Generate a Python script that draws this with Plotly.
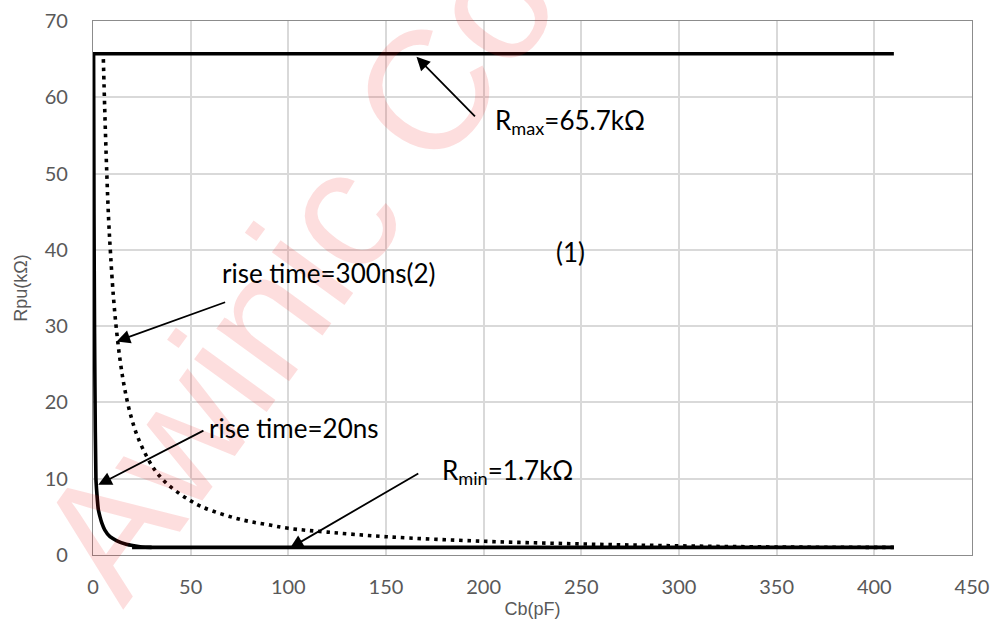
import plotly.graph_objects as go

# ---- data ----
rmax_x = [0, 410]
rmax_y = [65.7, 65.7]

rmin_x = [20, 410]
rmin_y = [1.0, 1.0]

rise20_x = [0.3, 0.5, 0.8, 1.0, 1.5, 2.0, 2.7, 3.6, 4.5, 6.0, 8.7, 12.0, 17.0, 21.0, 25.0, 30.0]
rise20_y = [65.7, 45.0, 29.0, 22.0, 10.0, 8.0, 6.0, 5.0, 4.2, 3.3, 2.4, 1.9, 1.4, 1.2, 1.05, 1.0]

rise300_x = [5.3, 6, 7, 8, 9, 10.5, 12.1, 14, 16, 19, 23, 29, 33, 38, 44.5, 50, 55, 62, 72, 80,
             89, 100, 120, 150, 200, 250, 300, 350, 410]
rise300_y = [65.0, 58.5, 50.5, 44.0, 39.4, 33.7, 29.3, 25.3, 22.1, 18.6, 15.4, 12.2, 10.7, 9.3,
             8.0, 7.1, 6.4, 5.7, 4.9, 4.4, 4.0, 3.5, 3.0, 2.4, 1.8, 1.45, 1.2, 1.05, 1.0]

x_ticks = [0, 50, 100, 150, 200, 250, 300, 350, 400, 450]
y_ticks = [0, 10, 20, 30, 40, 50, 60, 70]

fig = go.Figure()

fig.add_trace(go.Scatter(x=rise300_x, y=rise300_y, mode="lines",
                         line=dict(color="black", width=3.6, dash="3.5px,4.8px", shape="spline"),
                         name="rise time=300ns", showlegend=False))
fig.add_trace(go.Scatter(x=rmax_x, y=rmax_y, mode="lines",
                         line=dict(color="black", width=3.6), name="Rmax", showlegend=False))
fig.add_trace(go.Scatter(x=rmin_x, y=rmin_y, mode="lines",
                         line=dict(color="black", width=3.6), name="Rmin", showlegend=False))
fig.add_trace(go.Scatter(x=rise20_x, y=rise20_y, mode="lines",
                         line=dict(color="black", width=3.6, shape="spline", smoothing=0.6),
                         name="rise time=20ns", showlegend=False))

txt_font = dict(family="Lato, Carlito, sans-serif", size=26, color="black")

annotations = []
# watermark
annotations.append(dict(text="Awinic Confidential", xref="paper", yref="paper",
                        x=0.4585, y=1.047, xanchor="center", yanchor="middle",
                        showarrow=False, textangle=-54,
                        font=dict(family="Liberation Sans, Arial, sans-serif", size=170,
                                  color="rgba(240,20,20,0.14)")))
# text labels
annotations += [
    dict(text="R<sub>max</sub>=65.7kΩ", x=204.6, y=56.8, xref="x", yref="y",
         xanchor="left", yanchor="middle", showarrow=False, font=txt_font),
    dict(text="(1)", x=244.2, y=39.7, xref="x", yref="y",
         xanchor="center", yanchor="middle", showarrow=False, font=txt_font),
    dict(text="rise time=300ns(2)", x=65.0, y=37.0, xref="x", yref="y",
         xanchor="left", yanchor="middle", showarrow=False, font=txt_font),
    dict(text="rise time=20ns", x=58.3, y=16.6, xref="x", yref="y",
         xanchor="left", yanchor="middle", showarrow=False, font=txt_font),
    dict(text="R<sub>min</sub>=1.7kΩ", x=177.5, y=11.0, xref="x", yref="y",
         xanchor="left", yanchor="middle", showarrow=False, font=txt_font),
]
# arrows (head, tail)
arrows = [
    ((165.6, 65.3), (196.3, 57.3)),
    ((12.1, 28.0), (68.4, 33.2)),
    ((2.7, 9.2), (57.3, 16.4)),
    ((100.8, 0.9), (167.3, 10.8)),
]
for (hx, hy), (tx, ty) in arrows:
    annotations.append(dict(x=hx, y=hy, ax=tx, ay=ty, xref="x", yref="y",
                            axref="x", ayref="y", text="", showarrow=True,
                            arrowhead=2, arrowsize=1.5, arrowwidth=1.8,
                            arrowcolor="black", standoff=0))

fig.update_layout(
    width=993, height=619,
    margin=dict(l=93, r=21, t=21, b=64, autoexpand=False),
    paper_bgcolor="white", plot_bgcolor="white",
    annotations=annotations,
    xaxis=dict(range=[0, 450], tickvals=x_ticks, ticktext=[str(v) for v in x_ticks],
               automargin=False,
               showgrid=True, gridcolor="#d9d9d9", gridwidth=1.5, zeroline=False,
               showline=True, mirror=True, linecolor="#8c8c8c", linewidth=1.3,
               tickfont=dict(family="Lato, Carlito, sans-serif", size=20, color="#595959"),
               ticklabelstandoff=14,
               title=dict(text="Cb(pF)", standoff=5,
                          font=dict(family="Liberation Sans, Arial, sans-serif", size=18,
                                    color="#595959"))),
    yaxis=dict(range=[0, 70], tickvals=y_ticks, ticktext=[str(v) for v in y_ticks],
               automargin=False,
               showgrid=True, gridcolor="#d9d9d9", gridwidth=1.5, zeroline=False,
               showline=True, mirror=True, linecolor="#8c8c8c", linewidth=1.3,
               tickfont=dict(family="Lato, Carlito, sans-serif", size=20, color="#595959"),
               ticklabelstandoff=20,
               title=dict(text="Rpu(kΩ)", standoff=12,
                          font=dict(family="Liberation Sans, Arial, sans-serif", size=18,
                                    color="#595959"))),
)

fig.write_html("out.html")
